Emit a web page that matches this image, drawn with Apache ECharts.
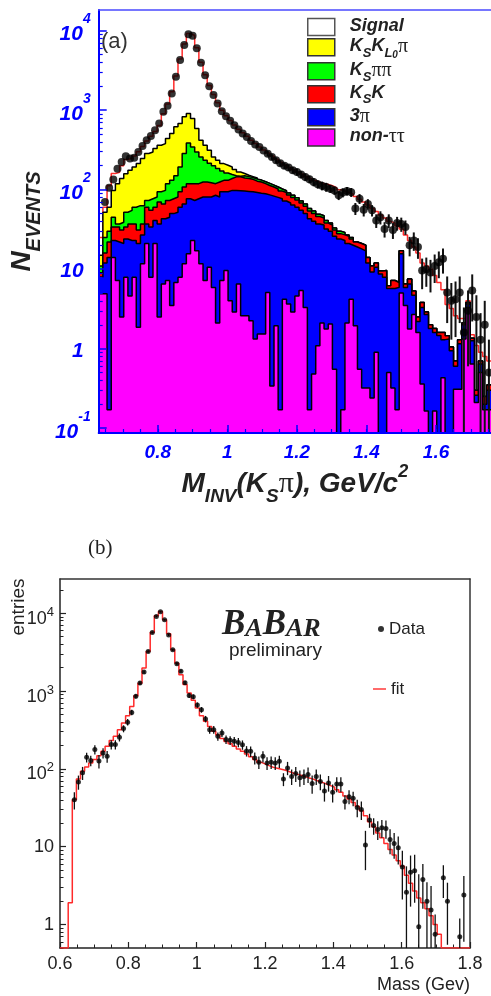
<!DOCTYPE html>
<html>
<head>
<meta charset="utf-8">
<title>K_S pi invariant mass</title>
<script src="https://cdn.jsdelivr.net/npm/echarts@6.0.0/dist/echarts.min.js"></script>
<style>
  html, body { margin: 0; padding: 0; background: #fff; }
  #chart { width: 491px; height: 996px; }
</style>
</head>
<body>
<div id="chart"></div>
<script>
// ---------- panel (a): stacked MC + data, 12 MeV bins from 0.63 GeV ----------
var binStartA = 0.63, binWidthA = 0.012;

var dataA = [null, 70, 106, 134, 184, 223, 263, 246, 252, 298,
  355, 418, 474, 560, 678, 953, 1135, 1620, 2630, 4270,
  6620, 8990, 8650, 5990, 3950, 2760, 2000, 1550, 1213, 971,
  840, 734, 647, 570, 510, 460, 410, 370, 344, 310,
  284, 258, 234, 215, 200, 190, 176, 167, 155, 144,
  135, 125, 117, 112, 108, 103, 98, 85, 92, 96,
  93, 58, 77, 56, 66, 55, 41, 45, 32, 41,
  31, 38, 37, 34, 20, 23, 19, 9.6, 10, 9.1,
  11, 12.2, 13.5, 5.1, 4, 4.2, 5.1, 1.6, 3, 5.4,
  2.5, 1.3, 2.0, 0.5];

var errA = [null, null, null, null, null, null, null, null, null, null,
  null, null, null, null, null, null, null, null, null, null,
  null, null, null, null, null, null, null, null, null, null,
  null, null, null, null, null, null, null, null, null, null,
  22, 21, 20, 19, 18, 18, 17, 17, 16, 16,
  15, 15, 14, 14, 14, 12, 12, 11, 12, 12,
  12, 10, 11, 10, 10, 9, 8, 8.5, 7, 8,
  7, 7.5, 7.5, 7, 5.5, 6, 5.5, 4, 4, 4,
  4.3, 4.5, 4.7, 3, 2.7, 2.8, 3, 1.7, 2.4, 3.2,
  2.2, 1.5, 2, 0.8];

// cumulative tops of the stacked histograms, as drawn
var topSignal = [25, 60, 112, 160, 165, 200, 240, 250, 265, 300,
  350, 410, 470, 540, 640, 900, 1200, 1700, 2700, 4400,
  6800, 9200, 8700, 6100, 4000, 2800, 2050, 1580, 1240, 1000,
  850, 740, 650, 575, 520, 470, 420, 380, 345, 315,
  290, 265, 242, 222, 205, 190, 178, 167, 157, 147,
  138, 130, 124, 119, 116, 112, 106, 100, 96, 92,
  88, 82, 76, 70, 64, 58, 53, 48, 44, 40,
  38, 35, 32, 27, 23, 19, 16, 12, 11, 10,
  8.3, 6.8, 5.5, 3.6, 3.2, 2.6, 2.4, 2.4, 4.0, 1.5,
  1.1, 0.9, 0.8, 0.7];

var topKsKlPi = [15, 52, 60, 98, 119, 138, 159, 175, 193, 213,
  246, 285, 298, 329, 362, 380, 440, 508, 617, 679,
  825, 908, 785, 588, 419, 362, 313, 258, 234, 213,
  203, 193, 179, 167, 160, 152, 146, 140, 132, 126,
  120, 114, 108, 102, 97, 91, 85, 79, 72, 66,
  58, 54, 49, 47, 41, 38, 33, 30, 29, 27,
  25, 22, 21, 20, 14, 11, 12, 9.5, 9.6, 6.2,
  7.2, 6.8, 17, 6.5, 7.5, 5.3, 2.5, 3.8, 2.9, 2.0,
  1.8, 1.6, 1.6, 1.45, 1.05, 0.7, 1.3, 2.1, 3.8, 1.35,
  0.3, 0.7, 0.25, 0.35];

var topKsPiPi = [11, 25, 30, 45, 37, 39, 52, 55, 60, 63,
  63, 73, 77, 81, 94, 98, 119, 131, 150, 193,
  285, 387, 345, 298, 258, 235, 215, 200, 185, 172,
  162, 155, 150, 148, 150, 146, 142, 136, 132, 126,
  120, 114, 108, 102, 97, 91, 85, 79, 72, 66,
  58, 54, 49, 47, 41, 38, 33, 30, 29, 27,
  25, 22, 21, 20, 14, 11, 12, 9.5, 9.6, 6.2,
  7.2, 6.8, 17, 6.5, 7.5, 5.3, 2.5, 3.8, 2.9, 2.0,
  1.8, 1.6, 1.6, 1.45, 1.05, 0.7, 1.3, 2.1, 3.8, 1.35,
  0.3, 0.7, 0.25, 0.35];

var topKsK = [9, 16, 22, 34, 34, 31, 34, 37, 37, 31,
  37, 60, 55, 60, 70, 66, 73, 77, 81, 94,
  108, 119, 119, 119, 125, 125, 122, 119, 125, 131,
  131, 138, 145, 145, 140, 138, 135, 128, 125, 119,
  113, 108, 102, 96, 92, 86, 80, 74, 68, 62,
  54, 50, 46, 44, 38, 36, 31, 28, 27, 26,
  24, 22, 21, 20, 14, 11, 12, 9.5, 9.6, 6.2,
  7.2, 6.8, 17, 6.5, 7.5, 5.3, 2.5, 3.8, 2.9, 2.0,
  1.8, 1.6, 1.6, 1.45, 1.05, 0.7, 1.3, 2.1, 3.8, 1.35,
  0.3, 0.7, 0.25, 0.35];

var top3Pi = [8, 12, 14, 23, 22, 21, 24, 23, 23, 21,
  27, 37, 34, 41, 37, 43, 45, 50, 52, 60,
  66, 77, 73, 77, 81, 81, 81, 85, 81, 94,
  94, 98, 98, 97, 96, 95, 94, 92, 90, 89,
  86, 83, 80, 77, 72, 68, 64, 60, 55, 50,
  43, 40, 37, 36, 32, 30, 26, 24, 23, 21,
  20, 19, 18, 17, 12, 9.2, 10.6, 8.7, 7.9, 5.7,
  5.7, 5.9, 15.6, 5.9, 6.5, 4.7, 2.2, 3.3, 2.7, 1.8,
  1.6, 1.46, 1.3, 1.32, 0.94, 0.6, 1.15, 2.0, 3.65, 1.26,
  0.26, 0.64, 0.2, 0.3];

var topNonTauTau = [4.9, 4.9, 0.17, 14, 7.2, 2.5, 7.9, 4.6, 7.9, 1.86,
  11.7, 21, 7.9, 21, 2.5, 6.5, 7.2, 3.5, 6.8, 7.9,
  11.7, 15.6, 23, 17, 11.7, 7.2, 10.6, 5.9, 2.1, 7.2,
  9.6, 4.0, 2.9, 6.5, 2.6, 2.6, 2.25, 1.32, 1.53, 1.53,
  5.1, 0.34, 1.95, 0.17, 4.2, 3.65, 2.9, 4.6, 5.4, 3.3,
  0.17, 0.48, 1.09, 2.1, 1.77, 2.04, 0.55, 0.05, 0.17, 2.1,
  4.2, 1.95, 0.55, 0.32, 0.32, 0.24, 0.9, 0.05, 0.05, 0.5,
  0.32, 0.17, 5, 3.5, 1.77, 2.7, 1.6, 0.36, 0.165, 0.05,
  0.165, 0.05, 0.43, 0.05, 0.05, 0.31, 0.31, 1.32, 3.3, 0.64,
  0.21, 0.5, 0.17, 0.17];

// ---------- panel (b): data and fit, 12 MeV bins from 0.6 GeV ----------
var binStartB = 0.6, binWidthB = 0.012;

var dataB = [null, null, null, 40, 68, 89, 141, 128, 177, 126,
  160, 145, 205, 205, 255, 329, 398, 532, 855, 1270,
  1750, 3220, 5650, 9060, 10400, 8220, 5250, 3390, 2240, 1800,
  1280, 875, 845, 660, 575, 437, 318, 319, 262, 290,
  238, 233, 226, 219, 204, 170, 168, 138, 122, 145,
  119, 122, 119, 125, 74, 103, 80, 87, 77, 80,
  85, 65, 80, 69, 52, 66, 50, 64, 64, 38,
  44, 42, 32, 30, 10.5, 22, 18.8, 16.7, 17.5, 17.2,
  12.4, 11, 9.7, 5.5, 2.6, 4.7, 4.9, 0.94, 3.8, 2.0,
  1.54, 0.75, null, 4.0, 2.0, null, null, 0.7, 2.4, null];

var errB = [null, null, null, 10, 14, 17, 20, 20, 24, 25,
  24, 25, 28, 28, 30, 34, 38, 45, 55, 70,
  85, 110, 150, 190, 200, 180, 145, 115, 95, 85,
  70, 60, 58, 50, 48, 42, 36, 36, 32, 34,
  30, 30, 30, 30, 28, 26, 26, 24, 22, 24,
  22, 22, 22, 22, 14, 20, 18, 19, 18, 18,
  19, 17, 18, 16, 14, 15, 13, 14, 14, 8,
  9, 9, 8, 8, 5.5, 4.5, 4.5, 4.5, 4.5, 4.5,
  4.4, 4, 3.8, 3.4, 3.0, 3.0, 3.0, 3.5, 2.2, 1.5,
  1.6, 0.6, null, 1.8, 1.45, null, null, 0.5, 1.8, null];

var fitB = [0.5, 0.5, 1.9, 40, 74, 93, 106, 119, 132, 148,
  168, 195, 231, 262, 319, 389, 483, 634, 870, 1260,
  1970, 3220, 5660, 9240, 10500, 8220, 5440, 3390, 2280, 1620,
  1210, 942, 760, 605, 483, 409, 350, 305, 272, 245,
  225, 210, 195, 180, 168, 155, 143, 132, 122, 116,
  110, 105, 102, 99, 96, 92, 88, 85, 82, 79,
  76, 73, 70, 67, 64, 61, 58, 54, 50, 45,
  41, 37, 33, 29, 25, 21, 18, 15, 13, 11,
  9.2, 7.8, 6.6, 5.6, 4.3, 3.4, 2.7, 2.2, 1.9, 1.6,
  1.3, 1.0, 0.75, 0.5, 0.5, 0.5, 0.5, 0.5, 0.5, 0.5];

// tick positions
var ticksXA = [0.8, 1.0, 1.2, 1.4, 1.6];
var ticksXB = [0.6, 0.8, 1.0, 1.2, 1.4, 1.6, 1.8];
var decadesA = [0.1, 1, 10, 100, 1000, 10000];
var decadesB = [1, 10, 100, 1000, 10000];

var BLUE = '#0000ff';
var INK = '#222222';
var SANS = 'Liberation Sans';
var SERIF = 'Liberation Serif';

// histogram as step points on bin edges (last value repeated at the last edge)
function stepPoints(start, width, vals) {
  var pts = vals.map(function (v, i) { return [start + i * width, v]; });
  pts.push([start + vals.length * width, vals[vals.length - 1]]);
  return pts;
}
function dotPoints(start, width, vals, errs) {
  var out = [];
  vals.forEach(function (v, i) {
    if (v != null) out.push([start + (i + 0.5) * width, v, errs[i] || 0]);
  });
  return out;
}
function minorLog(lo, hi) {
  var out = [];
  for (var k = lo; k <= hi; k++) {
    for (var m = 2; m <= 9; m++) out.push(+(m * Math.pow(10, k)).toPrecision(3));
  }
  return out;
}
function linearTicks(from, to, step) {
  var out = [];
  for (var v = from; v <= to + 1e-9; v += step) out.push(+v.toFixed(3));
  return out;
}
function errorBarItem(lineWidth) {
  return function (params, api) {
    var x = api.value(0), y = api.value(1), e = api.value(2);
    var cs = params.coordSys;
    var hi = api.coord([x, y + e]);
    var low = y - e > 0 ? api.coord([x, y - e])[1] : cs.y + cs.height;
    return {
      type: 'line',
      shape: { x1: hi[0], y1: Math.max(hi[1], cs.y), x2: hi[0], y2: Math.min(low, cs.y + cs.height) },
      style: { stroke: '#111', lineWidth: lineWidth }
    };
  };
}
function fmtX(v) { return String(+(+v).toFixed(2)); }

var labelA = {
  '-1': '{b|10}{e|-1}', '0': '{p|1}', '1': '{p|10}',
  '2': '{b|10}{e|2}', '3': '{b|10}{e|3}', '4': '{b|10}{e|4}'
};
var labelB = {
  '0': '{p|1}', '1': '{p|10}', '2': '{b|10}{e|2}', '3': '{b|10}{e|3}', '4': '{b|10}{e|4}'
};

var legendText = {
  'Signal': '{t|Signal}',
  'KsKLpi': '{t|K}{s|S}{t|K}{s|L}{z|0}{g|π}',
  'Kspipi': '{t|K}{s|S}{g|ππ}',
  'KsK': '{t|K}{s|S}{t|K}',
  '3pi': '{t|3}{g|π}',
  'nontautau': '{t|non-}{g|ττ}'
};

function bi(size, color, extra) {
  var s = { fontFamily: SANS, fontSize: size, fontWeight: 'bold', fontStyle: 'italic', color: color };
  for (var k in extra) s[k] = extra[k];
  return s;
}

function histSeries(name, vals, fill, z) {
  return {
    name: name, type: 'line', xAxisIndex: 0, yAxisIndex: 0, z: z,
    step: 'end', showSymbol: false, silent: true,
    data: stepPoints(binStartA, binWidthA, vals),
    lineStyle: { color: '#000', width: 1.5 },
    areaStyle: { color: fill, opacity: 1, origin: 'start' }
  };
}

var chart = echarts.init(document.getElementById('chart'));

chart.setOption({
  animation: false,
  backgroundColor: '#ffffff',
  textStyle: { fontFamily: SANS },
  grid: [
    { left: 93, top: 10, width: 398, height: 423 },
    { left: 60, top: 579, width: 410, height: 369 }
  ],
  xAxis: [
    {
      gridIndex: 0, type: 'value', position: 'bottom', min: 0.63, max: 1.758, z: 10,
      axisLine: { onZero: false, lineStyle: { color: BLUE, width: 2 } },
      axisTick: { inside: true, length: 8, customValues: ticksXA, lineStyle: { color: BLUE, width: 1.5 } },
      axisLabel: { customValues: ticksXA, margin: 10, formatter: fmtX, color: BLUE, fontSize: 19, fontWeight: 'bold', fontStyle: 'italic' },
      splitLine: { show: false },
      name: '{m|M}{s|INV}{m|(K}{s|S}{g|π}{m|), GeV/c}{p|2}',
      nameLocation: 'middle', nameGap: 26,
      nameTextStyle: {
        rich: {
          m: bi(28, INK, { padding: [6, 0, 7, 0] }),
          s: bi(19, INK, { verticalAlign: 'bottom' }),
          g: { fontFamily: SERIF, fontSize: 30, color: INK, padding: [6, 0, 7, 0] },
          p: bi(18, INK, { verticalAlign: 'top' })
        }
      }
    },
    {
      gridIndex: 0, type: 'value', position: 'bottom', min: 0.63, max: 1.758, z: 10,
      axisLine: { show: false },
      axisTick: { inside: true, length: 4, customValues: linearTicks(0.65, 1.75, 0.05), lineStyle: { color: BLUE, width: 1.2 } },
      axisLabel: { show: false }, splitLine: { show: false }
    },
    {
      gridIndex: 0, type: 'value', position: 'top', min: 0, max: 1, z: 10,
      axisLine: { onZero: false, lineStyle: { color: '#4a4aff', width: 1.5 } },
      axisTick: { show: false }, axisLabel: { show: false }, splitLine: { show: false }
    },
    {
      gridIndex: 1, type: 'value', position: 'bottom', min: 0.6, max: 1.8,
      axisLine: { onZero: false, lineStyle: { color: INK, width: 1.5 } },
      axisTick: { inside: true, length: 6, customValues: ticksXB, lineStyle: { color: INK, width: 1.2 } },
      axisLabel: { customValues: ticksXB, margin: 7, formatter: fmtX, color: INK, fontSize: 18 },
      splitLine: { show: false },
      name: 'Mass (Gev)', nameLocation: 'end', nameGap: 0,
      nameTextStyle: { align: 'right', verticalAlign: 'top', padding: [28, 0, 0, 0], fontSize: 18, color: INK }
    },
    {
      gridIndex: 1, type: 'value', position: 'bottom', min: 0.6, max: 1.8,
      axisLine: { show: false },
      axisTick: { inside: true, length: 3.5, customValues: linearTicks(0.65, 1.75, 0.05), lineStyle: { color: INK, width: 1 } },
      axisLabel: { show: false }, splitLine: { show: false }
    },
    {
      gridIndex: 1, type: 'value', position: 'top', min: 0, max: 1,
      axisLine: { onZero: false, lineStyle: { color: '#333', width: 1.5 } },
      axisTick: { show: false }, axisLabel: { show: false }, splitLine: { show: false }
    }
  ],
  yAxis: [
    {
      gridIndex: 0, type: 'log', logBase: 10, position: 'left', min: 0.087, max: 18200, z: 10,
      axisLine: { onZero: false, lineStyle: { color: BLUE, width: 2 } },
      axisTick: { inside: true, length: 8, customValues: decadesA, lineStyle: { color: BLUE, width: 1.5 } },
      axisLabel: {
        customValues: decadesA, margin: 8,
        formatter: function (v) { return labelA[String(Math.round(Math.log10(v)))]; },
        rich: {
          b: bi(21, BLUE, { padding: [12, 0, 4, 0] }),
          e: bi(14, BLUE, { verticalAlign: 'top' }),
          p: bi(21, BLUE, { padding: [5, 7, 0, 0] })
        }
      },
      splitLine: { show: false },
      name: '{n|N}{s|EVENTS}', nameLocation: 'middle', nameGap: 43,
      nameTextStyle: {
        rich: {
          n: bi(28, INK, { padding: [0, 0, 8, 0] }),
          s: bi(20, INK, { verticalAlign: 'bottom' })
        }
      }
    },
    {
      gridIndex: 0, type: 'log', logBase: 10, position: 'left', min: 0.087, max: 18200, z: 10,
      axisLine: { show: false },
      axisTick: { inside: true, length: 4, customValues: minorLog(-2, 4), lineStyle: { color: BLUE, width: 1.2 } },
      axisLabel: { show: false }, splitLine: { show: false }
    },
    {
      gridIndex: 1, type: 'log', logBase: 10, position: 'left', min: 0.5, max: 27500,
      axisLine: { onZero: false, lineStyle: { color: INK, width: 1.5 } },
      axisTick: { inside: true, length: 6, customValues: decadesB, lineStyle: { color: INK, width: 1.2 } },
      axisLabel: {
        customValues: decadesB, margin: 6, color: INK,
        formatter: function (v) { return labelB[String(Math.round(Math.log10(v)))]; },
        rich: {
          b: { fontFamily: SANS, fontSize: 18, color: INK, padding: [11, 0, 0, 0] },
          e: { fontFamily: SANS, fontSize: 13, color: INK, verticalAlign: 'top', padding: [7, 0, 0, 0] },
          p: { fontFamily: SANS, fontSize: 18, color: INK }
        }
      },
      splitLine: { show: false }
    },
    {
      gridIndex: 1, type: 'log', logBase: 10, position: 'left', min: 0.5, max: 27500,
      axisLine: { show: false },
      axisTick: { inside: true, length: 3.5, customValues: minorLog(-1, 4), lineStyle: { color: INK, width: 1 } },
      axisLabel: { show: false }, splitLine: { show: false }
    },
    {
      gridIndex: 1, type: 'value', position: 'right', min: 0, max: 1,
      axisLine: { onZero: false, lineStyle: { color: '#333', width: 1.5 } },
      axisTick: { show: false }, axisLabel: { show: false }, splitLine: { show: false }
    }
  ],
  legend: [
    {
      orient: 'vertical', left: 302, top: 12, itemWidth: 27, itemHeight: 17, itemGap: 0,
      icon: 'rect', selectedMode: false,
      data: [
        { name: 'Signal', itemStyle: { color: '#ffffff', borderColor: '#555', borderWidth: 1.5 } },
        { name: 'KsKLpi', itemStyle: { color: '#ffff00', borderColor: '#333', borderWidth: 1.5 } },
        { name: 'Kspipi', itemStyle: { color: '#00ff00', borderColor: '#333', borderWidth: 1.5 } },
        { name: 'KsK', itemStyle: { color: '#ff0000', borderColor: '#333', borderWidth: 1.5 } },
        { name: '3pi', itemStyle: { color: '#0000ff', borderColor: '#333', borderWidth: 1.5 } },
        { name: 'nontautau', itemStyle: { color: '#ff00ff', borderColor: '#333', borderWidth: 1.5 } }
      ],
      formatter: function (name) { return legendText[name]; },
      textStyle: {
        padding: [0, 0, 0, 10],
        rich: {
          t: bi(18, INK, { padding: [2, 0, 4, 0] }),
          s: bi(13, INK, { verticalAlign: 'bottom' }),
          z: bi(10, INK, { verticalAlign: 'bottom' }),
          g: { fontFamily: SERIF, fontSize: 20, color: INK, padding: [2, 0, 4, 0] }
        }
      }
    },
    {
      orient: 'vertical', left: 373, top: 614, itemWidth: 6, itemHeight: 6, icon: 'circle', selectedMode: false,
      data: [{ name: 'Data', itemStyle: { color: '#000' } }],
      textStyle: { fontSize: 17, lineHeight: 20, color: INK }
    },
    {
      orient: 'vertical', left: 368, top: 674, itemWidth: 13, itemHeight: 2, icon: 'rect', selectedMode: false,
      data: [{ name: 'fit', itemStyle: { color: '#ff6b6b', borderWidth: 0 } }],
      textStyle: { fontSize: 17, lineHeight: 20, color: INK }
    }
  ],
  graphic: [
    { type: 'text', left: 101, top: 31, style: { text: '(a)', font: '22px "Liberation Sans"', fill: '#333' } },
    { type: 'text', left: 88, top: 538, style: { text: '(b)', font: '21px "Liberation Serif"', fill: INK } },
    {
      type: 'text', left: 222, top: 607,
      style: {
        text: '{b|B}{s|A}{b|B}{s|AR}', fill: INK,
        rich: {
          b: { fontFamily: SERIF, fontSize: 35, fontWeight: 'bold', fontStyle: 'italic', fill: INK, verticalAlign: 'bottom' },
          s: { fontFamily: SERIF, fontSize: 26, fontWeight: 'bold', fontStyle: 'italic', fill: INK, verticalAlign: 'bottom' }
        }
      }
    },
    { type: 'text', left: 229, top: 641, style: { text: 'preliminary', font: '19px "Liberation Sans"', fill: INK } },
    {
      type: 'text', x: 19, y: 607, rotation: Math.PI / 2,
      style: { text: 'entries', font: '19px "Liberation Sans"', fill: INK, align: 'center', verticalAlign: 'middle', textAlign: 'center', textVerticalAlign: 'middle' }
    }
  ],
  series: [
    {
      name: 'Signal', type: 'line', xAxisIndex: 0, yAxisIndex: 0, z: 2,
      step: 'end', showSymbol: false, silent: true,
      data: stepPoints(binStartA, binWidthA, topSignal),
      lineStyle: { color: '#ff2a2a', width: 1.5 }
    },
    histSeries('KsKLpi', topKsKlPi, '#ffff00', 3),
    histSeries('Kspipi', topKsPiPi, '#00ff00', 4),
    histSeries('KsK', topKsK, '#ff0000', 5),
    histSeries('3pi', top3Pi, '#0000ff', 6),
    histSeries('nontautau', topNonTauTau, '#ff00ff', 7),
    {
      name: 'errA', type: 'custom', xAxisIndex: 0, yAxisIndex: 0, z: 8, silent: true,
      renderItem: errorBarItem(2),
      encode: { x: 0, y: 1 },
      data: dotPoints(binStartA, binWidthA, dataA, errA)
    },
    {
      name: 'dataA', type: 'scatter', xAxisIndex: 0, yAxisIndex: 0, z: 9, silent: true,
      symbolSize: 8, itemStyle: { color: '#000' },
      data: dotPoints(binStartA, binWidthA, dataA, errA)
    },
    {
      name: 'fit', type: 'line', xAxisIndex: 3, yAxisIndex: 2, z: 3,
      step: 'end', showSymbol: false, silent: true,
      data: stepPoints(binStartB, binWidthB, fitB),
      lineStyle: { color: '#ff2a2a', width: 1.5 }
    },
    {
      name: 'errB', type: 'custom', xAxisIndex: 3, yAxisIndex: 2, z: 4, silent: true,
      renderItem: errorBarItem(1.3),
      encode: { x: 0, y: 1 },
      data: dotPoints(binStartB, binWidthB, dataB, errB)
    },
    {
      name: 'Data', type: 'scatter', xAxisIndex: 3, yAxisIndex: 2, z: 5, silent: true,
      symbolSize: 5, itemStyle: { color: '#000' },
      data: dotPoints(binStartB, binWidthB, dataB, errB)
    }
  ]
});
</script>
</body>
</html>
